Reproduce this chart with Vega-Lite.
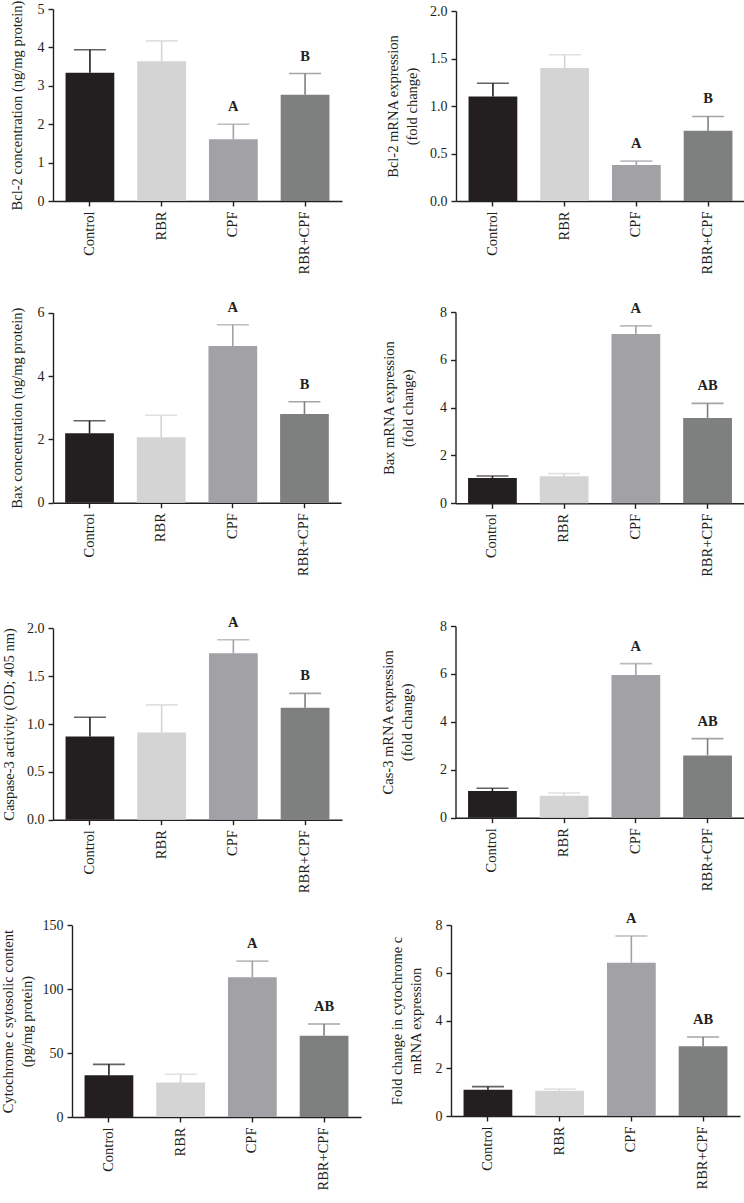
{
  "$schema": "https://vega.github.io/schema/vega-lite/v6.json",
  "padding": 0,
  "autosize": {"type": "pad"},
  "columns": 2,
  "spacing": 0,
  "bounds": "flush",
  "align": "all",
  "config": {
    "view": {"stroke": null},
    "font": "Liberation Serif",
    "axis": {
      "labelFont": "Liberation Serif", "titleFont": "Liberation Serif",
      "labelFontSize": 14, "titleFontSize": 14.5, "titleFontWeight": "normal",
      "labelColor": "#231f20", "titleColor": "#231f20",
      "domainColor": "#231f20", "tickColor": "#231f20",
      "domainWidth": 1.4, "tickWidth": 1.4, "tickSize": 5, "grid": false
    },
    "axisX": {"labelAngle": -90, "labelPadding": 5, "labelFontSize": 14.5},
    "axisY": {"labelPadding": 4, "minExtent": 0, "maxExtent": 0, "titleLineHeight": 19}
  },
  "data": {"values": [
    {"panel": "p1", "group": "Control", "mean": 3.34, "hi": 3.94, "sig": ""},
    {"panel": "p1", "group": "RBR", "mean": 3.64, "hi": 4.17, "sig": ""},
    {"panel": "p1", "group": "CPF", "mean": 1.61, "hi": 2.0, "sig": "A"},
    {"panel": "p1", "group": "RBR+CPF", "mean": 2.77, "hi": 3.32, "sig": "B"},
    {"panel": "p2", "group": "Control", "mean": 1.10, "hi": 1.24, "sig": ""},
    {"panel": "p2", "group": "RBR", "mean": 1.40, "hi": 1.54, "sig": ""},
    {"panel": "p2", "group": "CPF", "mean": 0.38, "hi": 0.42, "sig": "A"},
    {"panel": "p2", "group": "RBR+CPF", "mean": 0.74, "hi": 0.89, "sig": "B"},
    {"panel": "p3", "group": "Control", "mean": 2.19, "hi": 2.59, "sig": ""},
    {"panel": "p3", "group": "RBR", "mean": 2.07, "hi": 2.76, "sig": ""},
    {"panel": "p3", "group": "CPF", "mean": 4.95, "hi": 5.62, "sig": "A"},
    {"panel": "p3", "group": "RBR+CPF", "mean": 2.80, "hi": 3.19, "sig": "B"},
    {"panel": "p4", "group": "Control", "mean": 1.06, "hi": 1.14, "sig": ""},
    {"panel": "p4", "group": "RBR", "mean": 1.13, "hi": 1.24, "sig": ""},
    {"panel": "p4", "group": "CPF", "mean": 7.08, "hi": 7.42, "sig": "A"},
    {"panel": "p4", "group": "RBR+CPF", "mean": 3.57, "hi": 4.18, "sig": "AB"},
    {"panel": "p5", "group": "Control", "mean": 0.87, "hi": 1.07, "sig": ""},
    {"panel": "p5", "group": "RBR", "mean": 0.91, "hi": 1.20, "sig": ""},
    {"panel": "p5", "group": "CPF", "mean": 1.74, "hi": 1.88, "sig": "A"},
    {"panel": "p5", "group": "RBR+CPF", "mean": 1.17, "hi": 1.32, "sig": "B"},
    {"panel": "p6", "group": "Control", "mean": 1.11, "hi": 1.23, "sig": ""},
    {"panel": "p6", "group": "RBR", "mean": 0.92, "hi": 1.03, "sig": ""},
    {"panel": "p6", "group": "CPF", "mean": 5.96, "hi": 6.43, "sig": "A"},
    {"panel": "p6", "group": "RBR+CPF", "mean": 2.60, "hi": 3.30, "sig": "AB"},
    {"panel": "p7", "group": "Control", "mean": 32.6, "hi": 41.2, "sig": ""},
    {"panel": "p7", "group": "RBR", "mean": 26.9, "hi": 33.4, "sig": ""},
    {"panel": "p7", "group": "CPF", "mean": 109.3, "hi": 122.0, "sig": "A"},
    {"panel": "p7", "group": "RBR+CPF", "mean": 63.6, "hi": 72.8, "sig": "AB"},
    {"panel": "p8", "group": "Control", "mean": 1.10, "hi": 1.23, "sig": ""},
    {"panel": "p8", "group": "RBR", "mean": 1.06, "hi": 1.13, "sig": ""},
    {"panel": "p8", "group": "CPF", "mean": 6.42, "hi": 7.54, "sig": "A"},
    {"panel": "p8", "group": "RBR+CPF", "mean": 2.92, "hi": 3.31, "sig": "AB"}
  ]},
  "concat": [
    {
      "width": 372, "height": 300,
      "transform": [{"filter": "datum.panel === 'p1'"}],
      "encoding": {
        "x": {"field": "group", "type": "nominal", "sort": ["Control", "RBR", "CPF", "RBR+CPF"], "title": null,
              "scale": {"range": [52, 341], "paddingInner": 0.32, "paddingOuter": 0.175}, "axis": {"offset": -100}},
        "y": {"field": "mean", "type": "quantitative",
              "scale": {"domain": [0, 5], "range": [200, 8], "nice": false},
              "axis": {"values": [0, 1, 2, 3, 4, 5], "offset": -52, "titlePadding": 28.5, "title": "Bcl-2 concentration (ng/mg protein)"}},
        "color": {"field": "group", "type": "nominal", "legend": null,
                  "scale": {"domain": ["Control", "RBR", "CPF", "RBR+CPF"], "range": ["#231f20", "#d4d4d4", "#a1a1a6", "#7e807f"]}}
      },
      "layer": [
        {"mark": "bar"},
        {"mark": {"type": "rule", "strokeWidth": 1.6}, "encoding": {"y2": {"field": "hi"}}},
        {"mark": {"type": "tick", "size": 32, "thickness": 1.6}, "encoding": {"y": {"field": "hi", "type": "quantitative"}}},
        {"mark": {"type": "text", "dy": -17, "fontWeight": "bold", "fontSize": 14.5, "font": "Liberation Serif", "baseline": "middle"},
         "encoding": {"y": {"field": "hi", "type": "quantitative"}, "text": {"field": "sig"}, "color": {"value": "#231f20"}}}
      ]
    },
    {
      "width": 372, "height": 300,
      "transform": [{"filter": "datum.panel === 'p2'"}],
      "encoding": {
        "x": {"field": "group", "type": "nominal", "sort": ["Control", "RBR", "CPF", "RBR+CPF"], "title": null,
              "scale": {"range": [83, 372], "paddingInner": 0.32, "paddingOuter": 0.175}, "axis": {"offset": -100}},
        "y": {"field": "mean", "type": "quantitative",
              "scale": {"domain": [0, 2], "range": [200, 10], "nice": false},
              "axis": {"values": [0, 0.5, 1, 1.5, 2], "format": ".1f", "offset": -83, "titlePadding": 36.5, "title": ["Bcl-2 mRNA expression", "(fold change)"]}},
        "color": {"field": "group", "type": "nominal", "legend": null,
                  "scale": {"domain": ["Control", "RBR", "CPF", "RBR+CPF"], "range": ["#231f20", "#d4d4d4", "#a1a1a6", "#7e807f"]}}
      },
      "layer": [
        {"mark": "bar"},
        {"mark": {"type": "rule", "strokeWidth": 1.6}, "encoding": {"y2": {"field": "hi"}}},
        {"mark": {"type": "tick", "size": 32, "thickness": 1.6}, "encoding": {"y": {"field": "hi", "type": "quantitative"}}},
        {"mark": {"type": "text", "dy": -17, "fontWeight": "bold", "fontSize": 14.5, "font": "Liberation Serif", "baseline": "middle"},
         "encoding": {"y": {"field": "hi", "type": "quantitative"}, "text": {"field": "sig"}, "color": {"value": "#231f20"}}}
      ]
    },
    {
      "width": 372, "height": 300,
      "transform": [{"filter": "datum.panel === 'p3'"}],
      "encoding": {
        "x": {"field": "group", "type": "nominal", "sort": ["Control", "RBR", "CPF", "RBR+CPF"], "title": null,
              "scale": {"range": [52, 340], "paddingInner": 0.32, "paddingOuter": 0.17}, "axis": {"offset": -98.3}},
        "y": {"field": "mean", "type": "quantitative",
              "scale": {"domain": [0, 6], "range": [201.7, 11.7], "nice": false},
              "axis": {"values": [0, 2, 4, 6], "offset": -52, "titlePadding": 29, "title": "Bax concentration (ng/mg protein)"}},
        "color": {"field": "group", "type": "nominal", "legend": null,
                  "scale": {"domain": ["Control", "RBR", "CPF", "RBR+CPF"], "range": ["#231f20", "#d4d4d4", "#a1a1a6", "#7e807f"]}}
      },
      "layer": [
        {"mark": "bar"},
        {"mark": {"type": "rule", "strokeWidth": 1.6}, "encoding": {"y2": {"field": "hi"}}},
        {"mark": {"type": "tick", "size": 32, "thickness": 1.6}, "encoding": {"y": {"field": "hi", "type": "quantitative"}}},
        {"mark": {"type": "text", "dy": -17, "fontWeight": "bold", "fontSize": 14.5, "font": "Liberation Serif", "baseline": "middle"},
         "encoding": {"y": {"field": "hi", "type": "quantitative"}, "text": {"field": "sig"}, "color": {"value": "#231f20"}}}
      ]
    },
    {
      "width": 372, "height": 300,
      "transform": [{"filter": "datum.panel === 'p4'"}],
      "encoding": {
        "x": {"field": "group", "type": "nominal", "sort": ["Control", "RBR", "CPF", "RBR+CPF"], "title": null,
              "scale": {"range": [82.5, 371.5], "paddingInner": 0.32, "paddingOuter": 0.175}, "axis": {"offset": -97.7}},
        "y": {"field": "mean", "type": "quantitative",
              "scale": {"domain": [0, 8], "range": [202.3, 11], "nice": false},
              "axis": {"values": [0, 2, 4, 6, 8], "offset": -82.5, "titlePadding": 40.5, "title": ["Bax mRNA expression", "(fold change)"]}},
        "color": {"field": "group", "type": "nominal", "legend": null,
                  "scale": {"domain": ["Control", "RBR", "CPF", "RBR+CPF"], "range": ["#231f20", "#d4d4d4", "#a1a1a6", "#7e807f"]}}
      },
      "layer": [
        {"mark": "bar"},
        {"mark": {"type": "rule", "strokeWidth": 1.6}, "encoding": {"y2": {"field": "hi"}}},
        {"mark": {"type": "tick", "size": 32, "thickness": 1.6}, "encoding": {"y": {"field": "hi", "type": "quantitative"}}},
        {"mark": {"type": "text", "dy": -17, "fontWeight": "bold", "fontSize": 14.5, "font": "Liberation Serif", "baseline": "middle"},
         "encoding": {"y": {"field": "hi", "type": "quantitative"}, "text": {"field": "sig"}, "color": {"value": "#231f20"}}}
      ]
    },
    {
      "width": 372, "height": 300,
      "transform": [{"filter": "datum.panel === 'p5'"}],
      "encoding": {
        "x": {"field": "group", "type": "nominal", "sort": ["Control", "RBR", "CPF", "RBR+CPF"], "title": null,
              "scale": {"range": [52, 341], "paddingInner": 0.32, "paddingOuter": 0.175}, "axis": {"offset": -81.3}},
        "y": {"field": "mean", "type": "quantitative",
              "scale": {"domain": [0, 2], "range": [218.7, 27.3], "nice": false},
              "axis": {"values": [0, 0.5, 1, 1.5, 2], "format": ".1f", "offset": -52, "titlePadding": 36.5, "title": "Caspase-3 activity (OD; 405 nm)"}},
        "color": {"field": "group", "type": "nominal", "legend": null,
                  "scale": {"domain": ["Control", "RBR", "CPF", "RBR+CPF"], "range": ["#231f20", "#d4d4d4", "#a1a1a6", "#7e807f"]}}
      },
      "layer": [
        {"mark": "bar"},
        {"mark": {"type": "rule", "strokeWidth": 1.6}, "encoding": {"y2": {"field": "hi"}}},
        {"mark": {"type": "tick", "size": 32, "thickness": 1.6}, "encoding": {"y": {"field": "hi", "type": "quantitative"}}},
        {"mark": {"type": "text", "dy": -17, "fontWeight": "bold", "fontSize": 14.5, "font": "Liberation Serif", "baseline": "middle"},
         "encoding": {"y": {"field": "hi", "type": "quantitative"}, "text": {"field": "sig"}, "color": {"value": "#231f20"}}}
      ]
    },
    {
      "width": 372, "height": 300,
      "transform": [{"filter": "datum.panel === 'p6'"}],
      "encoding": {
        "x": {"field": "group", "type": "nominal", "sort": ["Control", "RBR", "CPF", "RBR+CPF"], "title": null,
              "scale": {"range": [82.5, 371.5], "paddingInner": 0.32, "paddingOuter": 0.175}, "axis": {"offset": -83.3}},
        "y": {"field": "mean", "type": "quantitative",
              "scale": {"domain": [0, 8], "range": [216.7, 25], "nice": false},
              "axis": {"values": [0, 2, 4, 6, 8], "offset": -82.5, "titlePadding": 41.5, "title": ["Cas-3 mRNA expression", "(fold change)"]}},
        "color": {"field": "group", "type": "nominal", "legend": null,
                  "scale": {"domain": ["Control", "RBR", "CPF", "RBR+CPF"], "range": ["#231f20", "#d4d4d4", "#a1a1a6", "#7e807f"]}}
      },
      "layer": [
        {"mark": "bar"},
        {"mark": {"type": "rule", "strokeWidth": 1.6}, "encoding": {"y2": {"field": "hi"}}},
        {"mark": {"type": "tick", "size": 32, "thickness": 1.6}, "encoding": {"y": {"field": "hi", "type": "quantitative"}}},
        {"mark": {"type": "text", "dy": -17, "fontWeight": "bold", "fontSize": 14.5, "font": "Liberation Serif", "baseline": "middle"},
         "encoding": {"y": {"field": "hi", "type": "quantitative"}, "text": {"field": "sig"}, "color": {"value": "#231f20"}}}
      ]
    },
    {
      "width": 372, "height": 300,
      "transform": [{"filter": "datum.panel === 'p7'"}],
      "encoding": {
        "x": {"field": "group", "type": "nominal", "sort": ["Control", "RBR", "CPF", "RBR+CPF"], "title": null,
              "scale": {"range": [71, 360], "paddingInner": 0.32, "paddingOuter": 0.175}, "axis": {"offset": -84}},
        "y": {"field": "mean", "type": "quantitative",
              "scale": {"domain": [0, 150], "range": [216, 24.3], "nice": false},
              "axis": {"values": [0, 50, 100, 150], "offset": -71, "titlePadding": 37.5, "title": ["Cytochrome c sytosolic content", "(pg/mg protein)"]}},
        "color": {"field": "group", "type": "nominal", "legend": null,
                  "scale": {"domain": ["Control", "RBR", "CPF", "RBR+CPF"], "range": ["#231f20", "#d4d4d4", "#a1a1a6", "#7e807f"]}}
      },
      "layer": [
        {"mark": "bar"},
        {"mark": {"type": "rule", "strokeWidth": 1.6}, "encoding": {"y2": {"field": "hi"}}},
        {"mark": {"type": "tick", "size": 32, "thickness": 1.6}, "encoding": {"y": {"field": "hi", "type": "quantitative"}}},
        {"mark": {"type": "text", "dy": -17, "fontWeight": "bold", "fontSize": 14.5, "font": "Liberation Serif", "baseline": "middle"},
         "encoding": {"y": {"field": "hi", "type": "quantitative"}, "text": {"field": "sig"}, "color": {"value": "#231f20"}}}
      ]
    },
    {
      "width": 372, "height": 300,
      "transform": [{"filter": "datum.panel === 'p8'"}],
      "encoding": {
        "x": {"field": "group", "type": "nominal", "sort": ["Control", "RBR", "CPF", "RBR+CPF"], "title": null,
              "scale": {"range": [78, 367], "paddingInner": 0.32, "paddingOuter": 0.175}, "axis": {"offset": -85}},
        "y": {"field": "mean", "type": "quantitative",
              "scale": {"domain": [0, 8], "range": [215, 24], "nice": false},
              "axis": {"values": [0, 2, 4, 6, 8], "offset": -78, "titlePadding": 28, "title": ["Fold change in cytochrome c", "mRNA expression"]}},
        "color": {"field": "group", "type": "nominal", "legend": null,
                  "scale": {"domain": ["Control", "RBR", "CPF", "RBR+CPF"], "range": ["#231f20", "#d4d4d4", "#a1a1a6", "#7e807f"]}}
      },
      "layer": [
        {"mark": "bar"},
        {"mark": {"type": "rule", "strokeWidth": 1.6}, "encoding": {"y2": {"field": "hi"}}},
        {"mark": {"type": "tick", "size": 32, "thickness": 1.6}, "encoding": {"y": {"field": "hi", "type": "quantitative"}}},
        {"mark": {"type": "text", "dy": -17, "fontWeight": "bold", "fontSize": 14.5, "font": "Liberation Serif", "baseline": "middle"},
         "encoding": {"y": {"field": "hi", "type": "quantitative"}, "text": {"field": "sig"}, "color": {"value": "#231f20"}}}
      ]
    }
  ]
}
